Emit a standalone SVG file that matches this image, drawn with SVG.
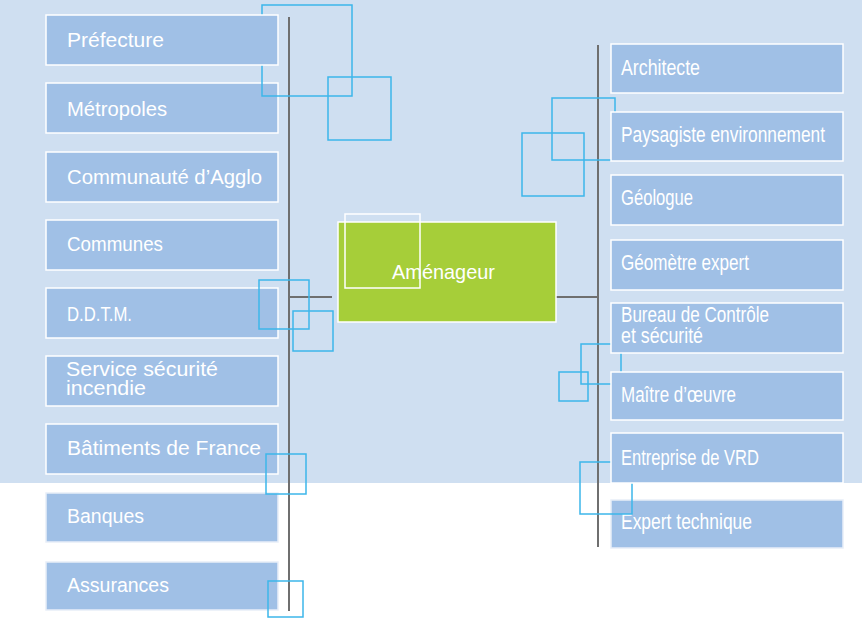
<svg xmlns="http://www.w3.org/2000/svg" width="862" height="630" viewBox="0 0 862 630">
<style>
.bg{fill:#cfdff1}
.box{fill:#a0c0e6;stroke:#ffffff;stroke-width:1.5}
.main{fill:#a6ce39;stroke:#ffffff;stroke-width:1.5}
.lbl{font-family:"Liberation Sans",Arial,sans-serif;fill:#ffffff}
.l{font-size:20px}
.r{font-size:22px}
.c{font-size:21px}
.conn{stroke:#6f6f6f;stroke-width:2;fill:none}
.sq{fill:none;stroke:#3db6ea;stroke-width:1.5}
.wsq{fill:none;stroke:#ffffff;stroke-width:1.5}
</style>
<rect class="bg" x="0" y="0" width="862" height="483"/>
<rect x="0" y="483" width="862" height="147" fill="#ffffff"/>

<g id="connectors">
<line class="conn" x1="289" y1="17" x2="289" y2="611"/>
<line class="conn" x1="289" y1="297" x2="332" y2="297"/>
<line class="conn" x1="598" y1="45" x2="598" y2="547"/>
<line class="conn" x1="556" y1="297" x2="598" y2="297"/>
</g>

<g id="metropoles"><rect class="box" x="46" y="83" width="232" height="50"/><text class="lbl l" x="67" y="116" textLength="100" lengthAdjust="spacingAndGlyphs">Métropoles</text></g>
<g id="expert-technique"><rect class="box" x="611" y="500" width="232" height="48" style="stroke:#e8eef8"/><text class="lbl r" x="621" y="529" textLength="131" lengthAdjust="spacingAndGlyphs">Expert technique</text></g>

<g id="deco-back">
<rect class="sq" x="262" y="5" width="90" height="91"/>
<rect class="sq" x="328" y="77" width="63" height="63"/>
<rect class="sq" x="552" y="98" width="63" height="62"/>
<rect class="sq" x="522" y="133" width="62" height="63"/>
<rect class="sq" x="581" y="344" width="40" height="40"/>
<rect class="sq" x="559" y="372" width="29" height="29"/>
<rect class="sq" x="580" y="462" width="52" height="52"/>
</g>

<g id="prefecture"><rect class="box" x="46" y="15" width="232" height="50"/><text class="lbl l" x="67" y="47" textLength="97" lengthAdjust="spacingAndGlyphs">Préfecture</text></g>
<g id="communaute"><rect class="box" x="46" y="152" width="232" height="50"/><text class="lbl l" x="67" y="184" textLength="195" lengthAdjust="spacingAndGlyphs">Communauté d’Agglo</text></g>
<g id="communes"><rect class="box" x="46" y="220" width="232" height="50"/><text class="lbl l" x="67" y="251" textLength="96" lengthAdjust="spacingAndGlyphs">Communes</text></g>
<g id="ddtm"><rect class="box" x="46" y="288" width="232" height="50"/><text class="lbl l" x="67" y="321" textLength="65" lengthAdjust="spacingAndGlyphs">D.D.T.M.</text></g>
<g id="securite-incendie"><rect class="box" x="46" y="356" width="232" height="50"/><text class="lbl l" x="66" y="376" textLength="152" lengthAdjust="spacingAndGlyphs">Service sécurité</text><text class="lbl l" x="66" y="395" textLength="80" lengthAdjust="spacingAndGlyphs">incendie</text></g>
<g id="batiments"><rect class="box" x="46" y="424" width="232" height="50"/><text class="lbl l" x="67" y="455" textLength="194" lengthAdjust="spacingAndGlyphs">Bâtiments de France</text></g>
<g id="banques"><rect class="box" x="46" y="493" width="232" height="49" style="stroke:#e8eef8"/><text class="lbl l" x="67" y="523" textLength="77" lengthAdjust="spacingAndGlyphs">Banques</text></g>
<g id="assurances"><rect class="box" x="46" y="562" width="232" height="48" style="stroke:#e8eef8"/><text class="lbl l" x="67" y="592" textLength="102" lengthAdjust="spacingAndGlyphs">Assurances</text></g>

<g id="architecte"><rect class="box" x="611" y="44" width="232" height="49"/><text class="lbl r" x="621" y="75" textLength="79" lengthAdjust="spacingAndGlyphs">Architecte</text></g>
<g id="paysagiste"><rect class="box" x="611" y="112" width="232" height="49"/><text class="lbl r" x="621" y="142" textLength="204" lengthAdjust="spacingAndGlyphs">Paysagiste environnement</text></g>
<g id="geologue"><rect class="box" x="611" y="175" width="232" height="50"/><text class="lbl r" x="621" y="205" textLength="72" lengthAdjust="spacingAndGlyphs">Géologue</text></g>
<g id="geometre"><rect class="box" x="611" y="240" width="232" height="50"/><text class="lbl r" x="621" y="270" textLength="128" lengthAdjust="spacingAndGlyphs">Géomètre expert</text></g>
<g id="bureau-controle"><rect class="box" x="611" y="303" width="232" height="50"/><text class="lbl r" x="621" y="322" textLength="148" lengthAdjust="spacingAndGlyphs">Bureau de Contrôle</text><text class="lbl r" x="621" y="343" textLength="82" lengthAdjust="spacingAndGlyphs">et sécurité</text></g>
<g id="maitre-oeuvre"><rect class="box" x="611" y="372" width="232" height="48"/><text class="lbl r" x="621" y="402" textLength="115" lengthAdjust="spacingAndGlyphs">Maître d’œuvre</text></g>
<g id="entreprise-vrd"><rect class="box" x="611" y="433" width="232" height="50"/><text class="lbl r" x="621" y="465" textLength="138" lengthAdjust="spacingAndGlyphs">Entreprise de VRD</text></g>

<g id="deco-front">
<rect class="sq" x="259" y="280" width="50" height="49"/>
<rect class="sq" x="293" y="311" width="40" height="40"/>
<rect class="sq" x="266" y="454" width="40" height="40"/>
<rect class="sq" x="268" y="581" width="35" height="36"/>
</g>

<g id="amenageur"><rect class="main" x="338" y="222" width="218" height="100"/><rect class="wsq" x="345" y="214" width="75" height="74"/><text class="lbl c" x="392" y="279" textLength="103" lengthAdjust="spacingAndGlyphs">Aménageur</text></g>
</svg>
